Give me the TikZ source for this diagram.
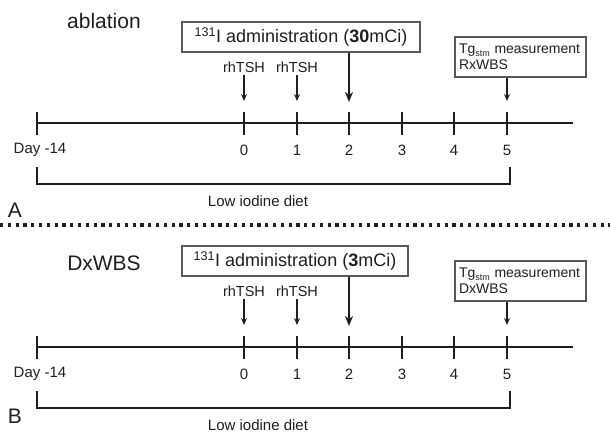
\documentclass[tikz,border=0pt]{standalone}
\usepackage{fontspec}
\setmainfont{Liberation Sans}
\usetikzlibrary{arrows.meta}
\definecolor{ink}{gray}{0.12}
\definecolor{boxgray}{gray}{0.35}
\tikzset{
  axisline/.style={line width=1.7pt, draw=ink},
  tickline/.style={line width=2.1pt, draw=ink},
  bracketline/.style={line width=1.7pt, draw=ink, line join=miter},
  admbox/.style={draw=boxgray, line width=1.3pt, minimum height=30pt, inner sep=0pt,
    text=ink, font=\fontsize{18}{20}\selectfont},
  tgbox/.style={draw=boxgray, line width=1.3pt, minimum height=40pt, text width=123pt,
    inner xsep=4pt, inner ysep=3pt, align=left, text=ink, font=\fontsize{14}{16}\selectfont},
  arr/.style={-{Stealth[length=7pt,width=6pt]}, line width=1.5pt, draw=ink},
  bigarr/.style={-{Stealth[length=10pt,width=8pt]}, line width=2.3pt, draw=ink},
  lbl/.style={text=ink, font=\fontsize{15}{17}\selectfont, inner sep=1pt},
  rhlbl/.style={text=ink, font=\fontsize{14.5}{17}\selectfont, inner sep=2.5pt},
  titlelbl/.style={text=ink, font=\fontsize{21}{24}\selectfont, inner sep=1pt},
  letterlbl/.style={text=ink, font=\fontsize{21}{24}\selectfont, inner sep=1pt},
  sepline/.style={line width=3.2pt, draw=ink, dash pattern=on 3.2pt off 4.6pt},
}
\newcommand\drawpanel[7]{%
  \node[titlelbl] (#1title) at (104,#3) {#2};
  \node[admbox, minimum width=#6] (#1adm) at (#5,37)
    {\textsuperscript{131}I administration (\textbf{#4}mCi)};
  \node[tgbox] (#1tg) at (520.5,57)
    {Tg\raisebox{-0.35ex}{\fontsize{9}{9}\selectfont stm} measurement\\#7};
  \coordinate (#1L) at (37,123);
  \coordinate (#1R) at (573,123);
  \draw[axisline] (#1L) -- (#1R);
  \foreach \i/\x in {m/37,0/244,1/297,2/349,3/402,4/454,5/507}{
    \coordinate (#1t\i) at (\x,123);
    \draw[tickline] ([yshift=11pt]#1t\i) -- ([yshift=-12pt]#1t\i);
  }
  \node[lbl] (#1nm) at (40,150) {Day -14};
  \foreach \i/\x in {0/244,1/297,2/349,3/402,4/454,5/507}{
    \node[lbl] (#1n\i) at (\x,150) {\i};
  }
  \node[rhlbl] (#1rh0) at (244,67) {rhTSH};
  \node[rhlbl] (#1rh1) at (297,67) {rhTSH};
  \coordinate (#1a0) at (244,101);
  \coordinate (#1a1) at (297,101);
  \coordinate (#1a2) at (349,102);
  \coordinate (#1a5) at (507,101);
  \draw[arr] (#1rh0.south) -- (#1a0);
  \draw[arr] (#1rh1.south) -- (#1a1);
  \draw[bigarr] (#1adm.south -| #1t2) -- (#1a2);
  \draw[arr] (#1tg.south -| #1t5) -- (#1a5);
  \coordinate (#1bl) at (37,167);
  \coordinate (#1br) at (510,167);
  \draw[bracketline] (#1bl) -- ++(0,17) -- ++(473,0) -- (#1br);
  \node[lbl] (#1diet) at (258,201) {Low iodine diet};
}
\begin{document}
\begin{tikzpicture}[x=1pt,y=-1pt]
  \useasboundingbox (0,0) rectangle (610,433);
  \drawpanel{p}{ablation}{21}{30}{301}{238pt}{RxWBS}
  \node[letterlbl] (letA) at (15,210) {A};
  \coordinate (sepL) at (0,225);
  \coordinate (sepR) at (610,225);
  \draw[sepline] (sepL) -- (sepR);
  \begin{scope}[yshift=-224pt]
    \drawpanel{q}{DxWBS}{39}{3}{295}{226pt}{DxWBS}
  \end{scope}
  \node[letterlbl] (letB) at (15,416) {B};
\end{tikzpicture}
\end{document}
